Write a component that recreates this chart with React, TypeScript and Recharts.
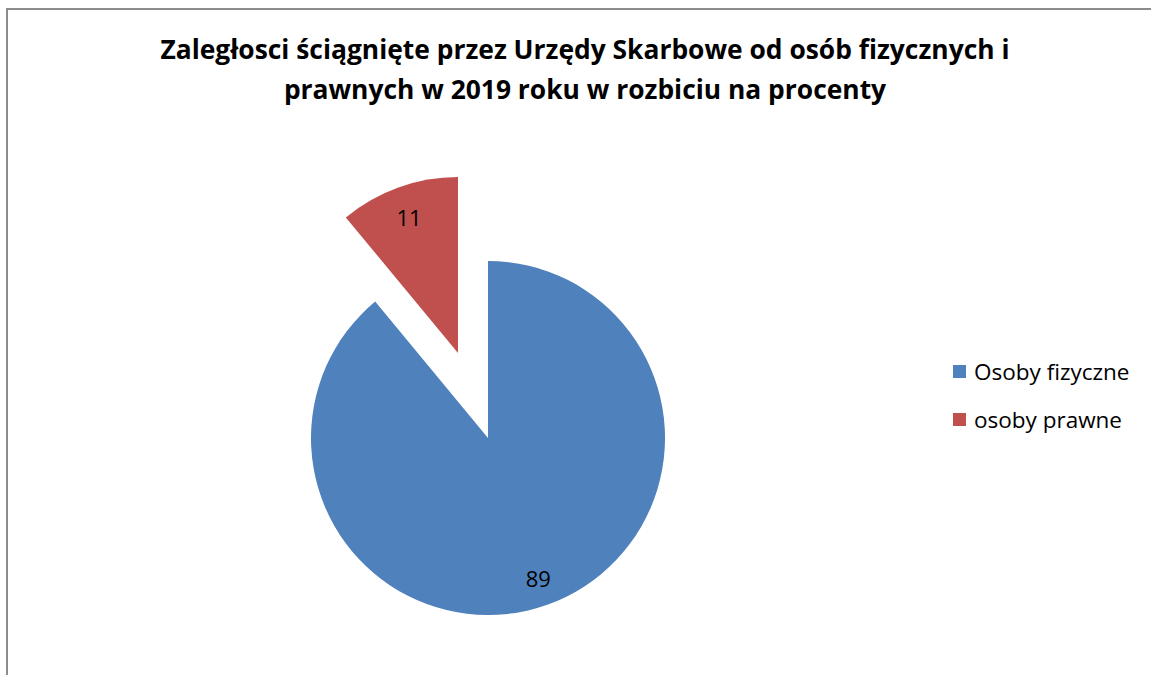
import React from "react";
import { PieChart, Pie, Cell, Legend } from "recharts";

const titleLines = [
  "Zaległosci ściągnięte przez Urzędy Skarbowe od osób fizycznych i",
  "prawnych w 2019 roku w rozbiciu na procenty",
];
const categories = ["Osoby fizyczne", "osoby prawne"];
const values = [89, 11];
const colors = ["#4F81BD", "#C0504D"];

const data = categories.map((name, i) => ({ name, value: values[i] }));

const FONT = "'Open Sans', Lato, sans-serif";
const RAD = Math.PI / 180;

const makeLabel = (only: number, factor: number) => (props: any) => {
  const { cx, cy, midAngle, outerRadius, value, index } = props;
  if (index !== only) return null;
  const r = outerRadius * factor;
  const x = cx + r * Math.cos(-midAngle * RAD);
  const y = cy + r * Math.sin(-midAngle * RAD);
  return (
    <text
      x={x}
      y={y}
      textAnchor="middle"
      dominantBaseline="central"
      fill="#000"
      fontSize={22}
      fontFamily={FONT}
    >
      {value}
    </text>
  );
};

const LegendContent = () => (
  <div style={{ fontFamily: FONT, fontSize: 22.5, color: "#000" }}>
    {categories.map((c, i) => (
      <div
        key={c}
        style={{ display: "flex", alignItems: "center", height: 48 }}
      >
        <span
          style={{
            display: "inline-block",
            width: 13,
            height: 13,
            background: colors[i],
            marginRight: 8,
          }}
        />
        <span>{c}</span>
      </div>
    ))}
  </div>
);

export default function App() {
  return (
    <div
      style={{
        position: "absolute",
        left: 6,
        top: 8,
        width: 1145,
        height: 667,
        borderTop: "2px solid #8c8c8c",
        borderLeft: "2px solid #8c8c8c",
        background: "#fff",
        overflow: "hidden",
      }}
    >
      <div
        style={{
          position: "absolute",
          left: 0,
          top: 19,
          width: 1154,
          textAlign: "center",
          fontFamily: FONT,
          fontWeight: 700,
          fontSize: 26.4,
          lineHeight: "40px",
          color: "#000",
        }}
      >
        {titleLines.map((t) => (
          <div key={t}>{t}</div>
        ))}
      </div>
      <PieChart width={1143} height={665}>
        <Pie
          data={data}
          dataKey="value"
          nameKey="name"
          cx={475}
          cy={423}
          outerRadius={177}
          startAngle={90}
          endAngle={-270}
          stroke="none"
          isAnimationActive={false}
          labelLine={false}
          label={makeLabel(0, 0.84)}
        >
          {data.map((d, i) => (
            <Cell key={d.name} fill={i === 0 ? colors[0] : "transparent"} />
          ))}
        </Pie>
        <Pie
          data={data}
          dataKey="value"
          nameKey="name"
          cx={445}
          cy={338}
          outerRadius={176}
          startAngle={90}
          endAngle={-270}
          stroke="none"
          isAnimationActive={false}
          labelLine={false}
          label={makeLabel(1, 0.82)}
        >
          {data.map((d, i) => (
            <Cell key={d.name} fill={i === 1 ? colors[1] : "transparent"} />
          ))}
        </Pie>
        <Legend
          layout="vertical"
          content={LegendContent}
          wrapperStyle={{ position: "absolute", left: 945, top: 337, width: 200 }}
        />
      </PieChart>
    </div>
  );
}
